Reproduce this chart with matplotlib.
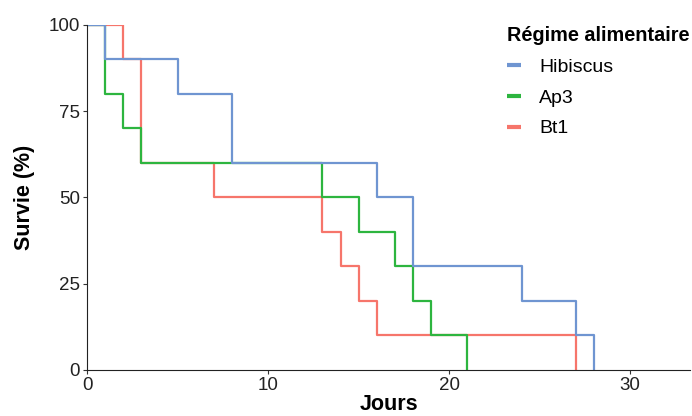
import matplotlib.pyplot as plt

plt.rcParams['font.family'] = ['Liberation Sans', 'DejaVu Sans']

# survival steps (day, % surviving after that day)
hib_t = [0, 1, 5, 8, 16, 18, 24, 27, 28]
hib_s = [100, 90, 80, 60, 50, 30, 20, 10, 0]
ap3_t = [0, 1, 2, 3, 13, 15, 17, 18, 19, 21]
ap3_s = [100, 80, 70, 60, 50, 40, 30, 20, 10, 0]
bt1_t = [0, 2, 3, 7, 13, 14, 15, 16, 27]
bt1_s = [100, 90, 60, 50, 40, 30, 20, 10, 0]

labels = ['Hibiscus', 'Ap3', 'Bt1']
colors = ['#6F95D1', '#2DB53F', '#F6756B']

fig = plt.figure(figsize=(6.92, 4.16), dpi=100)
ax = fig.add_axes([0.126, 0.111, 0.871, 0.829])

ax.step(bt1_t, bt1_s, where='post', color=colors[2], lw=1.6, label=labels[2])
ax.step(ap3_t, ap3_s, where='post', color=colors[1], lw=1.6, label=labels[1])
ax.step(hib_t, hib_s, where='post', color=colors[0], lw=1.6, label=labels[0])

ax.set_xlim(0, 33.3)
ax.set_ylim(0, 100)
ax.set_xticks([0, 10, 20, 30])
ax.set_yticks([0, 25, 50, 75, 100])
for s in ['top', 'right']:
    ax.spines[s].set_visible(False)
ax.spines['left'].set_color('#222222')
ax.spines['bottom'].set_color('#222222')
ax.tick_params(labelsize=13.5, colors='#333333', length=3, width=0.8,
               labelcolor='#222222', pad=2)
ax.set_xlabel('Jours', fontsize=15.5, fontweight='bold', labelpad=0)
ax.set_ylabel('Survie (%)', fontsize=15.5, fontweight='bold', labelpad=10)

h, l = ax.get_legend_handles_labels()
order = [2, 1, 0]
leg = ax.legend([h[i] for i in order], [l[i] for i in order], title='Régime alimentaire',
                loc='upper right', frameon=False, fontsize=14, handlelength=0.75,
                handletextpad=0.9, labelspacing=0.68, borderaxespad=0.0,
                bbox_to_anchor=(1.012, 1.02), alignment='left')
leg.get_title().set_fontweight('bold')
leg.get_title().set_fontsize(14.3)
for line in leg.get_lines():
    line.set_linewidth(3)
    line.set_solid_capstyle('butt')

fig.savefig('out.png', dpi=100)
